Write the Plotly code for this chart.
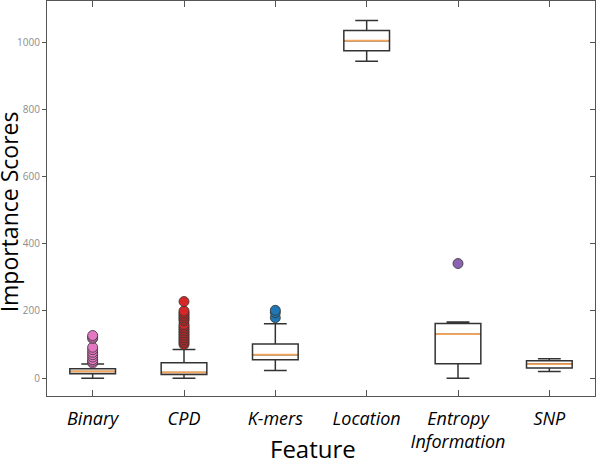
import plotly.graph_objects as go

categories = ["Binary", "CPD", "K-mers", "Location", "Entropy<br>Information", "SNP"]
q1 = [13, 11, 55, 974, 43, 30]
median = [20, 17, 70, 1004, 131, 42]
q3 = [28, 46, 102, 1034, 163, 52]
lowerfence = [0, 0, 23, 943, 0, 20]
upperfence = [42, 85, 162, 1064, 167, 58]

outliers = {
    0: [45, 50, 55, 63, 70, 77, 85, 92, 118, 122, 127],
    1: [100, 105, 110, 115, 120, 125, 130, 135, 140, 145, 150, 155, 160,
        170, 175, 180, 185, 190, 195, 200, 228],
    2: [180, 195, 202],
    4: [341],
}
outlier_colors = {0: "#e377c2", 1: "#d62728", 2: "#1f77b4", 4: "#8c63b0"}

yticks = [0, 200, 400, 600, 800, 1000]

xs = list(range(len(categories)))
fig = go.Figure()
fig.add_trace(go.Box(
    x=xs, q1=q1, median=median, q3=q3,
    lowerfence=lowerfence, upperfence=upperfence,
    width=0.5, whiskerwidth=0.5,
    fillcolor="white", line=dict(color="#333333", width=1.5),
    boxpoints=False, showlegend=False, hoverinfo="skip",
))
half = 0.25
for i, m in enumerate(median):
    fig.add_trace(go.Scatter(
        x=[i - half + 0.01, i + half - 0.01], y=[m, m], mode="lines",
        line=dict(color="#f5a65b", width=1.8), showlegend=False, hoverinfo="skip",
    ))
for i, vals in outliers.items():
    fig.add_trace(go.Scatter(
        x=[i] * len(vals), y=vals, mode="markers",
        marker=dict(color=outlier_colors[i], size=10,
                    line=dict(color="#333333", width=0.8)),
        showlegend=False, hoverinfo="skip",
    ))
# invisible trace for right axis
fig.add_trace(go.Scatter(x=[0], y=[0], yaxis="y2", mode="markers",
                         marker=dict(opacity=0), showlegend=False, hoverinfo="skip"))

fig.update_layout(
    width=596, height=463,
    margin=dict(l=47, r=1, t=1, b=67),
    paper_bgcolor="white", plot_bgcolor="white",
    font=dict(family="Open Sans, Liberation Sans, sans-serif", color="black"),
    xaxis=dict(
        range=[-0.5, 5.5], tickvals=xs, ticktext=[f"<i>{c}</i>" for c in categories],
        tickfont=dict(size=18, color="black"), automargin=False,
        showline=True, linecolor="#555555", linewidth=1.2, mirror="ticks",
        ticks="inside", ticklen=6, tickcolor="#555555", showgrid=False, zeroline=False,
        ticklabelstandoff=6,
    ),
    yaxis=dict(
        range=[-53, 1122], tickvals=yticks, automargin=False,
        tickfont=dict(size=10, color="#8c8c8c"),
        showline=True, linecolor="#555555", linewidth=1.2, mirror=True,
        ticks="outside", ticklen=4, tickcolor="#555555", showgrid=False, zeroline=False,
    ),
    yaxis2=dict(
        range=[-53, 1122], tickvals=yticks, overlaying="y", side="right",
        showticklabels=False, ticks="inside", ticklen=5, tickcolor="#555555",
        showline=False, showgrid=False, zeroline=False, automargin=False,
    ),
    annotations=[
        dict(text="Importance Scores", xref="paper", yref="paper",
             x=-0.0693, y=0.465, textangle=-90, showarrow=False, borderpad=0,
             xanchor="center", yanchor="middle", font=dict(size=23, color="black")),
        dict(text="Feature", xref="paper", yref="paper",
             x=0.4845, y=-0.134, showarrow=False, borderpad=0,
             xanchor="center", yanchor="middle", font=dict(size=24, color="black")),
    ],
)
fig.write_html("out.html", config={"displayModeBar": False},
               post_script="document.body.style.margin='0';document.body.style.overflow='hidden';")
